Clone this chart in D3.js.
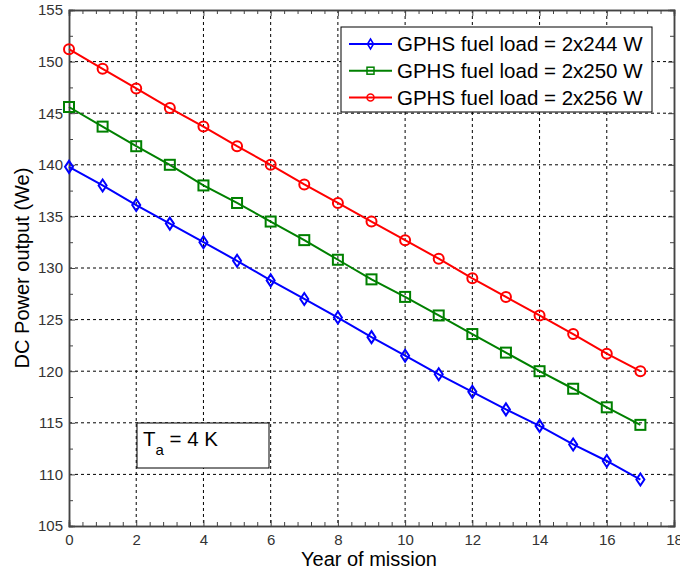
<!DOCTYPE html>
<html><head><meta charset="utf-8">
<script src="https://cdn.jsdelivr.net/npm/d3@7"></script>
<style>body{margin:0;background:#fff}svg{display:block;font-family:"Liberation Sans",Arial,sans-serif}</style>
</head><body><svg id="c" width="680" height="573"></svg>
<script>
const years = [0,1,2,3,4,5,6,7,8,9,10,11,12,13,14,15,16,17];
const load244 = [139.8,138.0,136.1,134.3,132.5,130.7,128.8,127.0,125.2,123.3,121.5,119.7,118.0,116.3,114.7,112.9,111.3,109.5];
const load250 = [145.6,143.7,141.8,140.0,138.0,136.3,134.5,132.7,130.8,128.9,127.2,125.4,123.6,121.8,120.0,118.3,116.5,114.8];
const load256 = [151.2,149.3,147.4,145.5,143.7,141.8,140.0,138.1,136.3,134.5,132.7,130.9,129.0,127.2,125.4,123.6,121.7,120.0];
const seriesNames = ["GPHS fuel load = 2x244 W","GPHS fuel load = 2x250 W","GPHS fuel load = 2x256 W"];
const seriesColors = ["#0000ff","#008000","#ff0000"];
const markerTypes = ["diamond","square","circle"];
const xTicks = [0,2,4,6,8,10,12,14,16,18];
const yTicks = [105,110,115,120,125,130,135,140,145,150,155];

const svg = d3.select("#c");
const L=69,R=674,T=10,B=526;
const x = d3.scaleLinear().domain([0,18]).range([L,R]);
const y = d3.scaleLinear().domain([105,155]).range([B,T]);

// grid
const g = svg.append("g");
g.selectAll(".gx").data(xTicks.slice(1,-1)).join("line")
 .attr("x1",d=>x(d)).attr("x2",d=>x(d)).attr("y1",T).attr("y2",B)
 .attr("stroke","#000").attr("stroke-width",1).attr("stroke-dasharray","3,3");
g.selectAll(".gy").data(yTicks.slice(1,-1)).join("line")
 .attr("y1",d=>y(d)).attr("y2",d=>y(d)).attr("x1",L).attr("x2",R)
 .attr("stroke","#000").attr("stroke-width",1).attr("stroke-dasharray","3,3");

// axes
const tickCol="#333";
svg.append("g").attr("transform",`translate(0,${B})`)
 .call(d3.axisBottom(x).tickValues(xTicks).tickSize(-6).tickPadding(8).tickFormat(d3.format("d")));
svg.append("g").attr("transform",`translate(0,${T})`)
 .call(d3.axisTop(x).tickValues(xTicks).tickSize(-6).tickFormat(""));
svg.append("g").attr("transform",`translate(${L},0)`)
 .call(d3.axisLeft(y).tickValues(yTicks).tickSize(-6).tickPadding(6).tickFormat(d3.format("d")));
svg.append("g").attr("transform",`translate(${R},0)`)
 .call(d3.axisRight(y).tickValues(yTicks).tickSize(-6).tickFormat(""));
const xMinor = d3.range(0,18.01,0.4).filter(v=>Math.abs(v/2-Math.round(v/2))>1e-6);
const yMinor = d3.range(107.5,155,5);
svg.append("g").attr("transform",`translate(0,${B})`).call(d3.axisBottom(x).tickValues(xMinor).tickSize(-4).tickFormat(""));
svg.append("g").attr("transform",`translate(0,${T})`).call(d3.axisTop(x).tickValues(xMinor).tickSize(-4).tickFormat(""));
svg.append("g").attr("transform",`translate(${L},0)`).call(d3.axisLeft(y).tickValues(yMinor).tickSize(-4).tickFormat(""));
svg.append("g").attr("transform",`translate(${R},0)`).call(d3.axisRight(y).tickValues(yMinor).tickSize(-4).tickFormat(""));
svg.selectAll(".domain").attr("stroke","#444").attr("stroke-width",1.5);
svg.selectAll(".tick line").attr("stroke","#444");
svg.selectAll(".tick text").attr("font-size",15).attr("fill",tickCol).attr("font-family","Liberation Sans, Arial, sans-serif");

// markers
function marker(sel,type,color){
  if(type==="diamond") sel.append("path").attr("d","M0,-6L4,0L0,6L-4,0Z");
  else if(type==="square") sel.append("rect").attr("x",-5).attr("y",-5).attr("width",10).attr("height",10);
  else sel.append("circle").attr("r",5);
  sel.selectAll("path,rect,circle").attr("fill","none").attr("stroke",color).attr("stroke-width",2);
}
const allSeries=[load244,load250,load256];
const line=d3.line().x((d,i)=>x(years[i])).y(d=>y(d));
allSeries.forEach((s,k)=>{
  svg.append("path").datum(s).attr("d",line).attr("fill","none").attr("stroke",seriesColors[k]).attr("stroke-width",2);
  s.forEach((v,i)=>{
    const m=svg.append("g").attr("transform",`translate(${x(years[i])},${y(v)})`);
    marker(m,markerTypes[k],seriesColors[k]);
  });
});

// legend
const lg=svg.append("g");
lg.append("rect").attr("x",341).attr("y",27).attr("width",311).attr("height",85).attr("fill","#fff").attr("stroke","#000").attr("stroke-width",1);
seriesNames.forEach((n,k)=>{
  const yy=44+k*26.7;
  lg.append("line").attr("x1",349).attr("x2",392).attr("y1",yy).attr("y2",yy).attr("stroke",seriesColors[k]).attr("stroke-width",2);
  const m=lg.append("g").attr("transform",`translate(370.5,${yy})`);
  if(markerTypes[k]==="diamond") m.append("path").attr("d","M0,-5L3,0L0,5L-3,0Z");
  else if(markerTypes[k]==="square") m.append("rect").attr("x",-3.5).attr("y",-3.5).attr("width",7).attr("height",7);
  else m.append("circle").attr("r",3.5);
  m.selectAll("*").attr("fill","none").attr("stroke",seriesColors[k]).attr("stroke-width",1.5);
  lg.append("text").attr("x",397).attr("y",yy).attr("dy","0.36em").attr("font-size",20.5).attr("fill","#000").text(n);
});

// annotation box
svg.append("rect").attr("x",137).attr("y",423).attr("width",132).attr("height",45).attr("fill","#fff").attr("stroke","#000").attr("stroke-width",1);
const ta=svg.append("text").attr("x",143).attr("y",446).attr("font-size",20.5).attr("fill","#000");
ta.append("tspan").text("T");
ta.append("tspan").attr("font-size",15).attr("dy",9).text("a");
ta.append("tspan").attr("dy",-9).text(" = 4 K");

// axis titles
svg.append("text").attr("x",369).attr("y",566).attr("text-anchor","middle").attr("font-size",20).attr("fill","#000").text("Year of mission");
svg.append("text").attr("transform","translate(29,268) rotate(-90)").attr("text-anchor","middle").attr("font-size",20).attr("fill","#000").text("DC Power output (We)");
</script></body></html>
